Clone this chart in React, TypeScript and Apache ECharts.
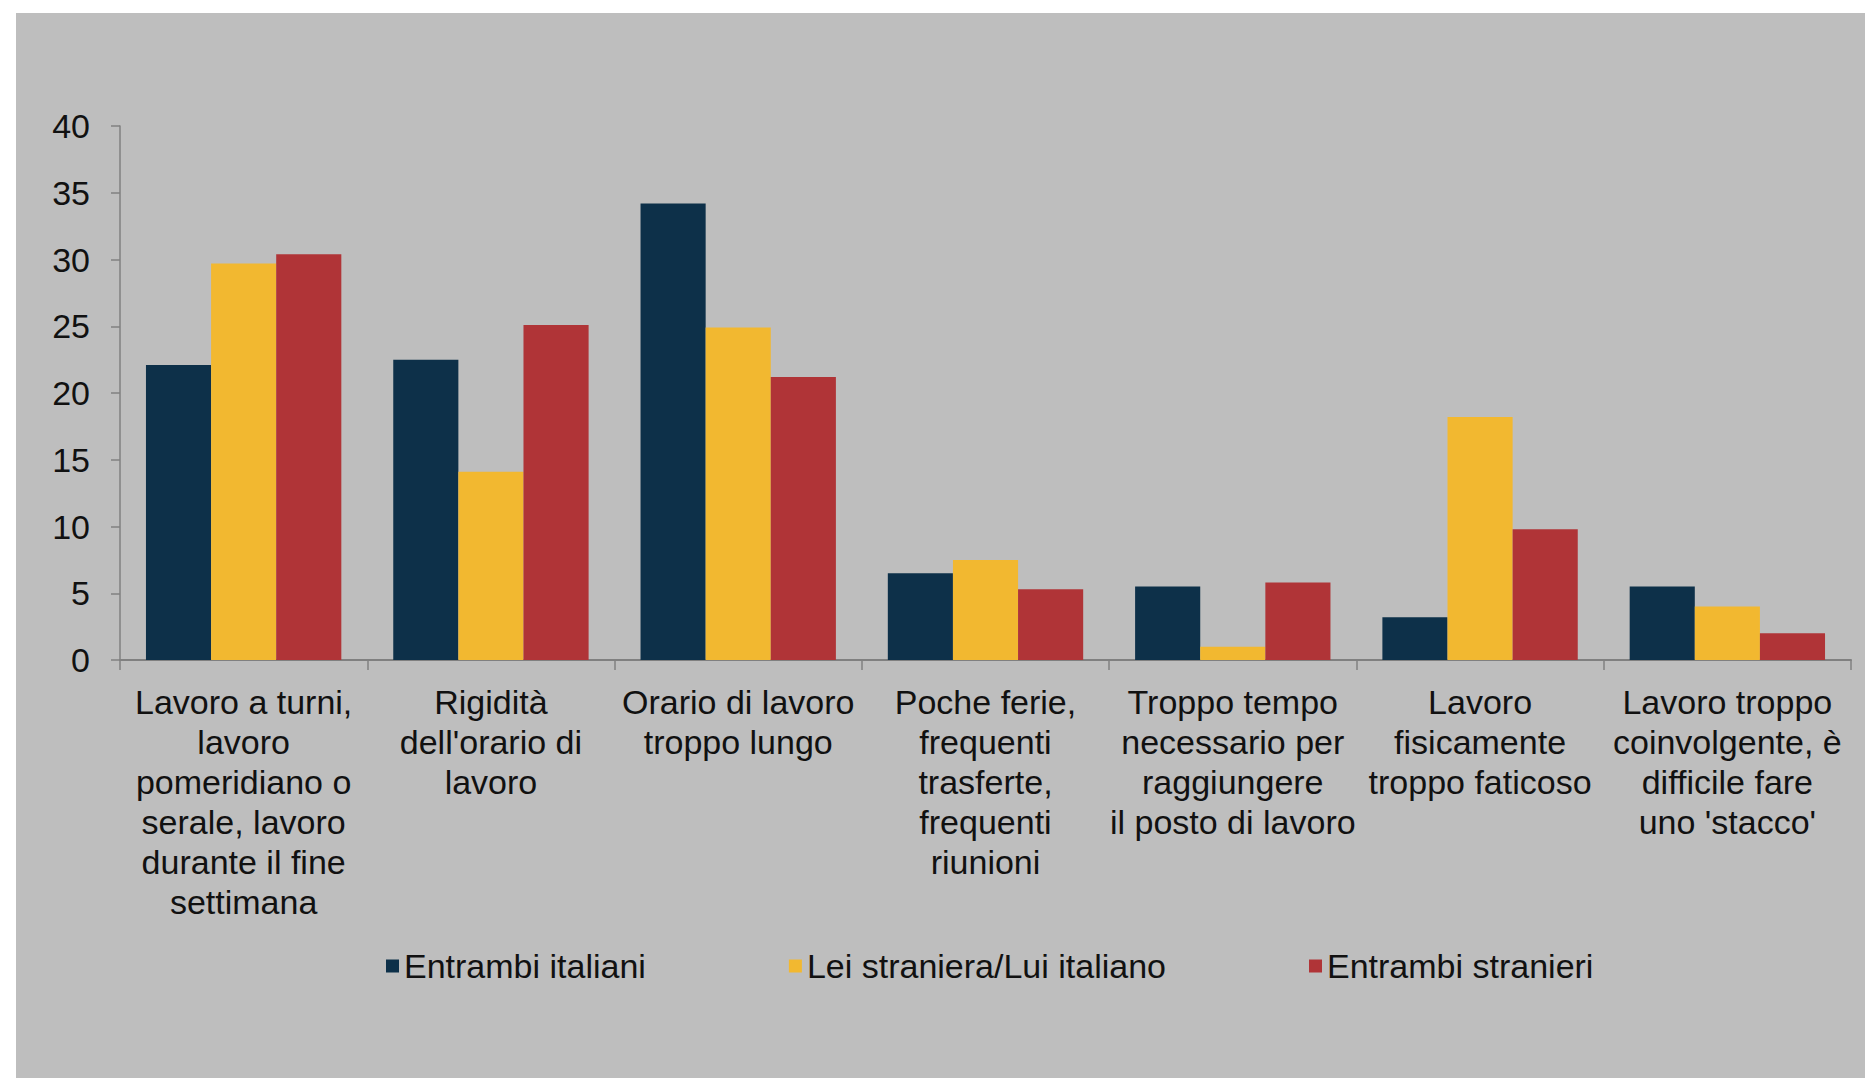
import React, { useEffect, useRef } from "react";
import * as echarts from "echarts";

const categories: string[] = [
  "Lavoro a turni,\nlavoro\npomeridiano o\nserale, lavoro\ndurante il fine\nsettimana",
  "Rigidità\ndell'orario di\nlavoro",
  "Orario di lavoro\ntroppo lungo",
  "Poche ferie,\nfrequenti\ntrasferte,\nfrequenti\nriunioni",
  "Troppo tempo\nnecessario per\nraggiungere\nil posto di lavoro",
  "Lavoro\nfisicamente\ntroppo faticoso",
  "Lavoro troppo\ncoinvolgente, è\ndifficile fare\nuno 'stacco'",
];

const seriesNames: string[] = [
  "Entrambi italiani",
  "Lei straniera/Lui italiano",
  "Entrambi stranieri",
];

const entrambiItaliani: number[] = [22.1, 22.5, 34.2, 6.5, 5.5, 3.2, 5.5];
const leiStranieraLuiItaliano: number[] = [29.7, 14.1, 24.9, 7.5, 1.0, 18.2, 4.0];
const entrambiStranieri: number[] = [30.4, 25.1, 21.2, 5.3, 5.8, 9.8, 2.0];

const colors: string[] = ["#0D3049", "#F2B830", "#B03437"];

export default function App() {
  const ref = useRef<HTMLDivElement>(null);

  useEffect(() => {
    if (!ref.current) return;
    const chart = echarts.init(ref.current, null, { renderer: "svg" });
    const font = "'Liberation Sans', Arial, sans-serif";
    const values = [entrambiItaliani, leiStranieraLuiItaliano, entrambiStranieri];
    chart.setOption({
      animation: false,
      backgroundColor: "#ffffff",
      graphic: [
        {
          type: "rect",
          z: -10,
          silent: true,
          shape: { x: 16, y: 13, width: 1865 - 16, height: 1078 - 13 },
          style: { fill: "#BEBEBE" },
        },
      ],
      color: colors,
      grid: { left: 120, right: 14, top: 126, bottom: 418 },
      legend: {
        left: 381,
        top: 944,
        icon: "rect",
        itemWidth: 13,
        itemHeight: 13,
        itemGap: 143,
        textStyle: { fontFamily: font, fontSize: 34, color: "#111111" },
        data: seriesNames,
      },
      xAxis: {
        type: "category",
        data: categories,
        axisLine: { lineStyle: { color: "#808080", width: 2 } },
        axisTick: { show: true, length: 10, lineStyle: { color: "#808080", width: 1.5 } },
        axisLabel: {
          interval: 0,
          margin: 22,
          fontFamily: font,
          fontSize: 34,
          lineHeight: 40,
          color: "#111111",
          align: "center",
        },
      },
      yAxis: {
        type: "value",
        min: 0,
        max: 40,
        interval: 5,
        splitLine: { show: false },
        axisLine: { show: true, lineStyle: { color: "#808080", width: 1.5 } },
        axisTick: { show: true, length: 9, lineStyle: { color: "#808080", width: 1.5 } },
        axisLabel: {
          margin: 30,
          fontFamily: font,
          fontSize: 34,
          color: "#111111",
        },
      },
      series: seriesNames.map((name, i) => ({
        name,
        type: "bar",
        data: values[i],
        barGap: "0%",
        barCategoryGap: "21%",
        itemStyle: { color: colors[i] },
      })),
    });
    return () => chart.dispose();
  }, []);

  return (
    <div
      ref={ref}
      style={{ position: "fixed", left: 0, top: 0, width: 1865, height: 1078 }}
    />
  );
}
